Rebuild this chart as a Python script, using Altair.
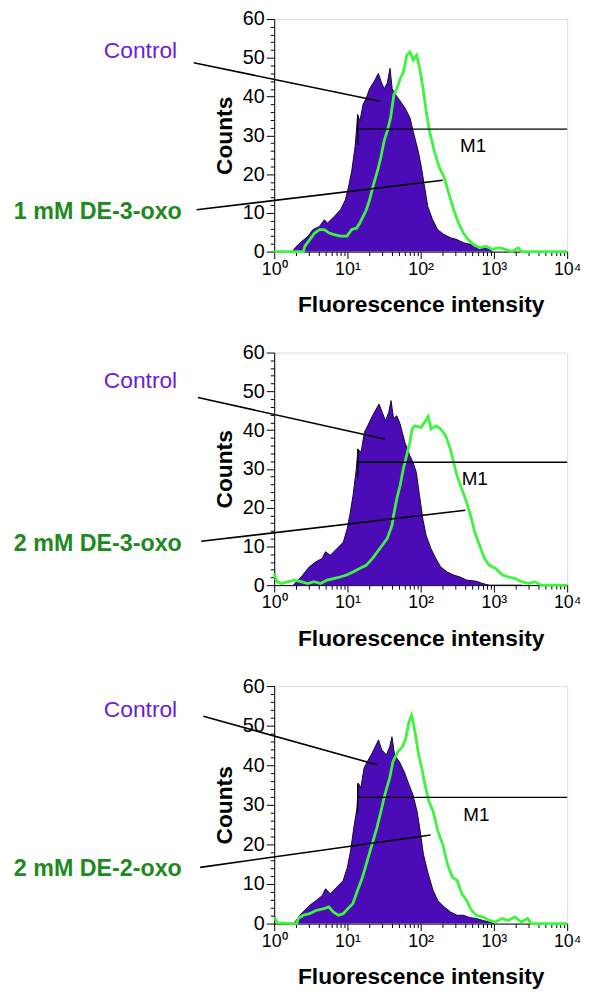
import altair as alt
import numpy as np
import pandas as pd

# ---------------- data (x as log10 of fluorescence intensity, y counts) ----------------
p1_ctrl_lx = [0.25, 0.265, 0.331, 0.464, 0.530, 0.618, 0.684, 0.728, 0.817, 0.905, 0.971, 1.015, 1.060,
              1.104, 1.126, 1.139, 1.170, 1.214, 1.258, 1.302, 1.369, 1.422, 1.457, 1.501, 1.545, 1.581,
              1.611, 1.656, 1.722, 1.788, 1.854, 1.898, 1.965, 2.009, 2.053, 2.097, 2.163, 2.230, 2.318,
              2.406, 2.494, 2.583, 2.671, 2.759, 2.848, 2.936, 2.980]
p1_ctrl_y = [0, 0.5, 1.9, 4.0, 5.7, 6.5, 8.2, 7.4, 9.0, 10.8, 13.3, 16.7, 21.0,
             27.0, 32.0, 35.4, 33.7, 38.0, 39.6, 42.0, 44.0, 46.0, 44.0, 42.0, 43.5, 47.3,
             42.0, 40.5, 38.8, 37.0, 34.5, 31.0, 26.0, 21.8, 16.7, 11.6, 8.2, 5.7, 4.4,
             3.6, 3.1, 2.3, 1.9, 1.4, 1.0, 0.6, 0]
p1_trt_lx = [0.0, 0.397, 0.419, 0.486, 0.552, 0.618, 0.684, 0.751, 0.817, 0.905, 0.993, 1.060, 1.126,
             1.170, 1.214, 1.258, 1.302, 1.347, 1.413, 1.457, 1.501, 1.545, 1.589, 1.634, 1.678, 1.722,
             1.766, 1.810, 1.854, 1.898, 1.943, 1.987, 2.031, 2.075, 2.119, 2.185, 2.252, 2.318, 2.384,
             2.450, 2.517, 2.583, 2.649, 2.715, 2.804, 2.892, 2.980, 3.068, 3.157, 3.245, 3.333, 3.377, 4.0]
p1_trt_y = [0, 0, 1.4, 3.1, 4.8, 5.7, 5.7, 4.8, 4.4, 4.0, 4.0, 5.7, 6.1,
            7.4, 9.1, 10.8, 13.3, 16.7, 21.0, 24.4, 28.6, 31.2, 34.5, 40.5, 42.2, 44.7,
            46.4, 50.7, 51.5, 49.4, 50.7, 47.3, 42.2, 36.2, 31.2, 26.0, 21.8, 19.3, 15.0,
            10.8, 7.4, 4.8, 3.1, 1.9, 1.0, 1.4, 0.6, 1.0, 0.6, 0, 1.0, 0, 0]

p2_ctrl_lx = [0.26, 0.279, 0.368, 0.478, 0.567, 0.656, 0.700, 0.766, 0.855, 0.944, 0.997, 1.032, 1.076,
              1.121, 1.143, 1.187, 1.231, 1.276, 1.342, 1.431, 1.475, 1.519, 1.564, 1.595, 1.630, 1.674,
              1.719, 1.785, 1.852, 1.896, 1.940, 1.984, 2.029, 2.073, 2.140, 2.206, 2.272, 2.361, 2.450,
              2.538, 2.627, 2.760, 2.848, 2.937, 3.380]
p2_ctrl_y = [0, 0.4, 2.1, 4.7, 6.0, 6.9, 8.6, 7.7, 9.4, 11.1, 14.6, 18.0, 23.1,
             30.0, 35.0, 34.3, 39.4, 41.1, 43.7, 46.7, 44.6, 42.4, 44.6, 47.6, 42.9, 43.7,
             41.6, 36.8, 33.4, 31.7, 29.1, 23.1, 17.1, 12.9, 9.4, 6.9, 4.7, 3.4, 2.6,
             2.1, 1.3, 1.0, 0.4, 0, 0]
p2_trt_lx = [0.0, 0.035, 0.102, 0.190, 0.279, 0.368, 0.456, 0.545, 0.633, 0.722, 0.811, 0.899, 0.988,
             1.076, 1.165, 1.254, 1.342, 1.409, 1.475, 1.542, 1.608, 1.630, 1.674, 1.719, 1.763, 1.807,
             1.852, 1.883, 1.918, 2.007, 2.051, 2.104, 2.140, 2.206, 2.272, 2.339, 2.405, 2.450, 2.494,
             2.560, 2.627, 2.693, 2.738, 2.804, 2.870, 2.937, 3.025, 3.114, 3.203, 3.291, 3.380, 3.468,
             3.557, 3.646, 4.0]
p2_trt_y = [3.0, 0.9, 0.4, 0.9, 1.3, 0.9, 0.4, 0.9, 0.4, 1.3, 1.7, 2.1, 2.6,
            3.4, 4.3, 5.1, 6.9, 8.6, 10.3, 12.0, 15.4, 18.0, 22.3, 25.7, 30.0, 33.4,
            36.8, 40.3, 41.1, 40.7, 42.0, 43.5, 40.3, 41.1, 40.3, 38.6, 35.1, 31.7, 28.3,
            24.9, 21.4, 17.1, 13.7, 10.3, 6.9, 5.1, 4.3, 2.6, 2.1, 1.7, 0.9, 0.4,
            0.9, 0, 0]

p3_ctrl_lx = [0.27, 0.285, 0.350, 0.482, 0.570, 0.657, 0.701, 0.767, 0.854, 0.942, 0.999, 1.043, 1.087,
              1.130, 1.148, 1.183, 1.227, 1.271, 1.336, 1.424, 1.468, 1.533, 1.577, 1.608, 1.643, 1.709,
              1.774, 1.840, 1.893, 1.950, 1.993, 2.037, 2.103, 2.169, 2.234, 2.322, 2.410, 2.497, 2.585,
              2.673, 2.760, 2.848, 2.935, 3.001]
p3_ctrl_y = [0, 0.4, 2.1, 4.6, 5.8, 7.1, 8.8, 7.5, 9.2, 10.9, 14.2, 18.4, 24.2,
             29.2, 35.5, 34.3, 39.3, 40.9, 43.0, 46.4, 43.9, 42.6, 44.7, 47.2, 42.6, 40.9,
             38.4, 35.1, 32.6, 28.4, 23.4, 17.5, 12.5, 8.4, 5.8, 4.2, 2.9, 2.1, 2.1,
             1.5, 1.3, 0.8, 0.4, 0]
p3_trt_lx = [0.0, 0.044, 0.307, 0.329, 0.394, 0.482, 0.570, 0.679, 0.745, 0.811, 0.876, 0.942, 1.008,
             1.073, 1.139, 1.205, 1.271, 1.336, 1.402, 1.468, 1.511, 1.577, 1.621, 1.687, 1.752, 1.796,
             1.840, 1.875, 1.906, 1.936, 1.972, 2.015, 2.059, 2.112, 2.169, 2.234, 2.300, 2.366, 2.432,
             2.497, 2.563, 2.629, 2.694, 2.760, 2.848, 2.935, 3.023, 3.111, 3.198, 3.286, 3.374, 3.461,
             3.505, 4.0]
p3_trt_y = [1.7, 0.2, 0, 1.3, 2.1, 2.5, 3.3, 3.8, 4.2, 2.9, 2.1, 2.5, 3.8,
            5.0, 8.4, 11.7, 15.9, 20.0, 24.2, 29.2, 32.6, 36.8, 40.9, 43.4, 44.7, 46.8,
            51.0, 52.6, 50.1, 46.8, 42.6, 39.3, 35.1, 30.9, 28.4, 23.4, 20.0, 15.0, 11.7,
            10.9, 7.5, 5.8, 3.3, 2.1, 1.7, 0.8, 0.4, 1.3, 0.8, 1.7, 0.4, 1.3,
            0, 0]

treatment_labels = ["1 mM DE-3-oxo", "2 mM DE-3-oxo", "2 mM DE-2-oxo"]
control_label = "Control"
gate_label = "M1"

# gate marker (log10 start, level)
gate_start_lx = [1.14, 1.143, 1.139]
gate_level = [31.6, 31.7, 31.9]
gate_text_lx = [2.715, 2.738, 2.76]
gate_text_y = [27.3, 27.4, 27.4]

# annotation anchors (log10 x, counts)
ctrl_text_lx = [-1.325, -1.325, -1.325]
ctrl_text_y = [51.7, 52.7, 53.9]
ctrl_line = [(-1.099, 48.7, 1.444, 38.8), (-1.042, 48.4, 1.506, 37.7), (-0.967, 52.4, 1.408, 40.1)]
trt_text_lx = [-1.262, -1.262, -1.262]
trt_text_y = [10.3, 10.7, 13.8]
trt_line = [(-1.060, 10.8, 2.301, 18.4), (-0.997, 11.3, 2.609, 19.3), (-1.011, 14.2, 2.136, 22.4)]

panel_heights = [235, 235, 240]
panel_width = 296

# ---------------- styling ----------------
FONT = "Liberation Sans"
PURPLE_FILL = "#4b0cb8"
GREEN_LINE = "#3cf53c"
CTRL_TEXT = "#6b21d6"
TRT_TEXT = "#1e8a1e"

xticks = [m * 10 ** e for e in range(4) for m in range(1, 10)] + [10000]
yticks = list(range(0, 61, 2))

xscale = alt.Scale(type="log", domain=[1, 10000], nice=False)
yscale = alt.Scale(domain=[0, 60], nice=False, zero=True)

xaxis = alt.Axis(
    values=xticks,
    labelExpr=("datum.value == 1 ? '10⁰' : datum.value == 10 ? '10¹' : datum.value == 100 ? '10²' : "
               "datum.value == 1000 ? '10³' : datum.value == 10000 ? '10⁴' : ''"),
    tickSize={"condition": {"test": "indexof([1,10,100,1000,10000], datum.value) >= 0", "value": 7}, "value": 4},
    title="Fluorescence intensity", titleFontSize=23, titleFontWeight="bold", titleFont=FONT,
    labelFontSize=18, labelFont=FONT, labelFlush=False, labelOverlap=False, labelPadding=2,
    grid=False, domainColor="black", tickColor="black", labelColor="black", titleColor="black",
    titlePadding=16,
)
yaxis = alt.Axis(
    values=yticks,
    labelExpr="datum.value % 10 === 0 ? datum.label : ''",
    tickSize={"condition": {"test": "datum.value % 10 === 0", "value": 8}, "value": 4},
    title="Counts", titleFontSize=23, titleFontWeight="bold", titleFont=FONT,
    labelFontSize=20, labelFont=FONT, labelFlush=False, labelOverlap=False, labelPadding=2,
    grid=False, domainColor="black", tickColor="black", labelColor="black", titleColor="black",
    titlePadding=6,
)


def X(f):
    return alt.X(f, type="quantitative", scale=xscale, axis=xaxis)


def Y(f):
    return alt.Y(f, type="quantitative", scale=yscale, axis=yaxis)


def panel(i, ctrl_lx, ctrl_y, trt_lx, trt_y):
    ctrl = pd.DataFrame({"x": 10 ** np.array(ctrl_lx), "y": ctrl_y})
    trt = pd.DataFrame({"x": 10 ** np.array(trt_lx), "y": trt_y})

    area = alt.Chart(ctrl).mark_area(color=PURPLE_FILL, opacity=1).encode(x=X("x"), y=Y("y"))
    outline = alt.Chart(ctrl).mark_line(color="#150830", strokeWidth=1).encode(x=X("x"), y=Y("y"))
    green = alt.Chart(trt).mark_line(color=GREEN_LINE, strokeWidth=2.8).encode(x=X("x"), y=Y("y"))

    gate = pd.DataFrame({"x": [10 ** gate_start_lx[i]], "x2": [10000.0], "y": [gate_level[i]]})
    gate_h = alt.Chart(gate).mark_rule(color="black", strokeWidth=1.3).encode(
        x=X("x"), x2="x2", y=Y("y"))
    gate_v = pd.DataFrame({"x": [10 ** gate_start_lx[i]], "y": [gate_level[i] - 4.0], "y2": [gate_level[i] + 3.5]})
    gate_vr = alt.Chart(gate_v).mark_rule(color="black", strokeWidth=1.3).encode(
        x=X("x"), y=Y("y"), y2="y2")
    gate_t = pd.DataFrame({"x": [10 ** gate_text_lx[i]], "y": [gate_text_y[i]], "t": [gate_label]})
    gate_text = alt.Chart(gate_t).mark_text(font=FONT, fontSize=19, color="black",
                                            align="center", baseline="middle").encode(
        x=X("x"), y=Y("y"), text="t:N")

    lines = pd.DataFrame({
        "x": [10 ** ctrl_line[i][0], 10 ** trt_line[i][0]],
        "y": [ctrl_line[i][1], trt_line[i][1]],
        "x2": [10 ** ctrl_line[i][2], 10 ** trt_line[i][2]],
        "y2": [ctrl_line[i][3], trt_line[i][3]],
    })
    ann_lines = alt.Chart(lines).mark_rule(color="black", strokeWidth=1.6).encode(
        x=X("x"), y=Y("y"), x2="x2", y2="y2")

    ct = pd.DataFrame({"x": [10 ** ctrl_text_lx[i]], "y": [ctrl_text_y[i]], "t": [control_label]})
    ctrl_text = alt.Chart(ct).mark_text(font=FONT, fontSize=23, color=CTRL_TEXT,
                                        align="right", baseline="middle").encode(
        x=X("x"), y=Y("y"), text="t:N")
    tt = pd.DataFrame({"x": [10 ** trt_text_lx[i]], "y": [trt_text_y[i]], "t": [treatment_labels[i]]})
    trt_text = alt.Chart(tt).mark_text(font=FONT, fontSize=23.5, fontWeight="bold", color=TRT_TEXT,
                                       align="right", baseline="middle").encode(
        x=X("x"), y=Y("y"), text="t:N")

    return alt.layer(area, outline, green, gate_h, gate_vr, gate_text, ann_lines, ctrl_text, trt_text).properties(
        width=panel_width, height=panel_heights[i])


p1 = panel(0, p1_ctrl_lx, p1_ctrl_y, p1_trt_lx, p1_trt_y)
p2 = panel(1, p2_ctrl_lx, p2_ctrl_y, p2_trt_lx, p2_trt_y)
p3 = panel(2, p3_ctrl_lx, p3_ctrl_y, p3_trt_lx, p3_trt_y)

chart = alt.vconcat(p1, p2, p3, spacing=102, bounds="flush").properties(
    padding={"left": 5, "top": -5, "right": 0, "bottom": 0}
).configure_view(stroke="black", strokeWidth=1).configure(background="white")

chart.save("out.html", embed_options={"renderer": "svg", "actions": False})
